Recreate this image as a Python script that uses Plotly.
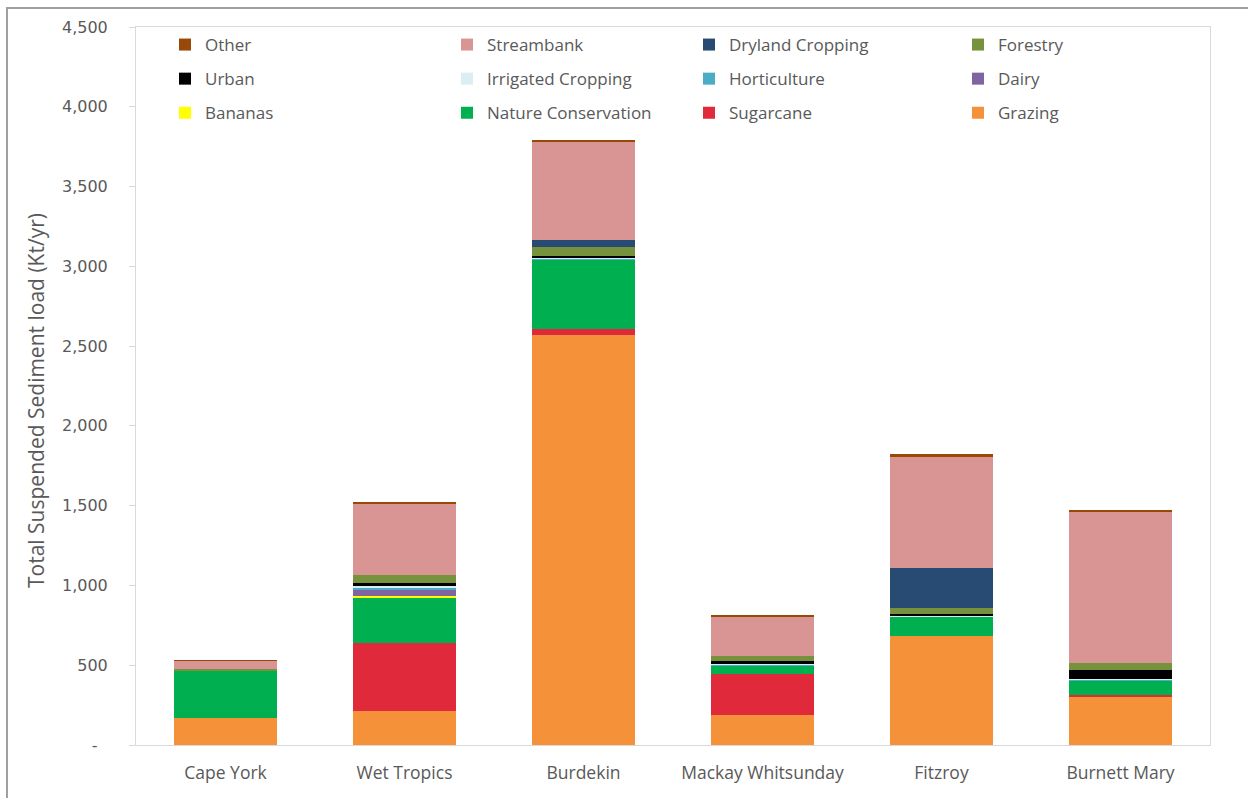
import plotly.graph_objects as go

categories = ["Cape York", "Wet Tropics", "Burdekin", "Mackay Whitsunday", "Fitzroy", "Burnett Mary"]

grazing = [170, 213, 2570, 188, 683, 307]
sugarcane = [0, 426, 35, 257, 0, 5]
nature_conservation = [295, 282, 440, 56, 125, 90]
bananas = [0, 13, 0, 0, 0, 0]
dairy = [0, 35, 0, 0, 0, 2]
horticulture = [0, 15, 5, 5, 0, 4]
irrigated_cropping = [0, 12, 8, 3, 2, 5]
urban = [2, 22, 8, 18, 8, 60]
forestry = [10, 50, 55, 33, 42, 38]
dryland_cropping = [0, 0, 45, 0, 251, 0]
streambank = [50, 447, 615, 245, 700, 955]
other = [5, 10, 8, 5, 10, 5]

y_tick_values = [0, 500, 1000, 1500, 2000, 2500, 3000, 3500, 4000, 4500]
y_tick_labels = ["-\u00a0\u00a0", "500", "1,000", "1,500", "2,000", "2,500", "3,000", "3,500", "4,000", "4,500"]
y_title = "Total Suspended Sediment load (Kt/yr)"

# (name, values, colour, legend column, row in column)
series = [
    ("Grazing", grazing, "#F59138", "legend4", 3),
    ("Sugarcane", sugarcane, "#E02A3C", "legend3", 3),
    ("Nature Conservation", nature_conservation, "#00B050", "legend2", 3),
    ("Bananas", bananas, "#FFFF00", "legend", 3),
    ("Dairy", dairy, "#8064A2", "legend4", 2),
    ("Horticulture", horticulture, "#4BACC6", "legend3", 2),
    ("Irrigated Cropping", irrigated_cropping, "#DAEEF3", "legend2", 2),
    ("Urban", urban, "#000000", "legend", 2),
    ("Forestry", forestry, "#76923C", "legend4", 1),
    ("Dryland Cropping", dryland_cropping, "#284B74", "legend3", 1),
    ("Streambank", streambank, "#D99594", "legend2", 1),
    ("Other", other, "#984807", "legend", 1),
]

fig = go.Figure()
for name, vals, col, leg, rank in series:
    fig.add_trace(go.Bar(
        x=categories, y=vals, name=name, legend=leg, legendgroup=name,
        legendrank=rank * 10,
        marker=dict(color=col, line=dict(width=0)),
    ))

W, H = 1249, 798
ML, MR, MT, MB = 136, 39, 27, 53
pw, ph = W - ML - MR, H - MT - MB

def px_x(p):
    return (p - ML) / pw

def px_y(p):
    return (H - MB - p) / ph

text_col = "#595959"
font_fam = "Open Sans"

legend_common = dict(
    xref="paper", yref="paper", xanchor="left", yanchor="top",
    bgcolor="rgba(0,0,0,0)", font=dict(family=font_fam, size=17, color=text_col),
    traceorder="grouped", tracegroupgap=9, orientation="v",
)
legend_text_x = [205, 487, 729, 998]
legs = {}
for i, key in enumerate(["legend", "legend2", "legend3", "legend4"]):
    legs[key] = dict(legend_common, x=px_x(legend_text_x[i] - 40), y=px_y(27))

fig.update_layout(
    width=W, height=H,
    barmode="stack", bargap=0.43,
    margin=dict(l=ML, r=MR, t=MT, b=MB, pad=0, autoexpand=False),
    plot_bgcolor="white", paper_bgcolor="white",
    font=dict(family=font_fam, color=text_col),
    showlegend=True,
    **legs,
    xaxis=dict(
        showline=True, linecolor="#D9D9D9", linewidth=1, mirror=True,
        ticks="", tickfont=dict(family=font_fam, size=17.5, color=text_col),
        ticklabelstandoff=12,
        showgrid=False, automargin=False,
    ),
    yaxis=dict(
        range=[0, 4500], tickvals=y_tick_values, ticktext=y_tick_labels,
        showline=True, linecolor="#D9D9D9", linewidth=1, mirror=True,
        ticks="outside", ticklen=6, tickcolor="#D9D9D9",
        tickfont=dict(family="DejaVu Sans", size=16, color=text_col),
        ticklabelstandoff=18, automargin=False,
        showgrid=False, zeroline=False,
    ),
    annotations=[
        dict(text=y_title, textangle=-90, showarrow=False,
             xref="paper", yref="paper", x=px_x(36), y=px_y(401),
             xanchor="center", yanchor="middle",
             font=dict(family=font_fam, size=21, color=text_col)),
    ],
    shapes=[
        dict(type="line", xref="paper", yref="paper", layer="above",
             x0=px_x(7), x1=px_x(7), y0=px_y(8), y1=px_y(812),
             line=dict(color="#A0A0A0", width=2)),
        dict(type="line", xref="paper", yref="paper", layer="above",
             x0=px_x(6), x1=px_x(1248), y0=px_y(8), y1=px_y(8),
             line=dict(color="#A0A0A0", width=2)),
    ],
)

fig.write_html("out.html")
